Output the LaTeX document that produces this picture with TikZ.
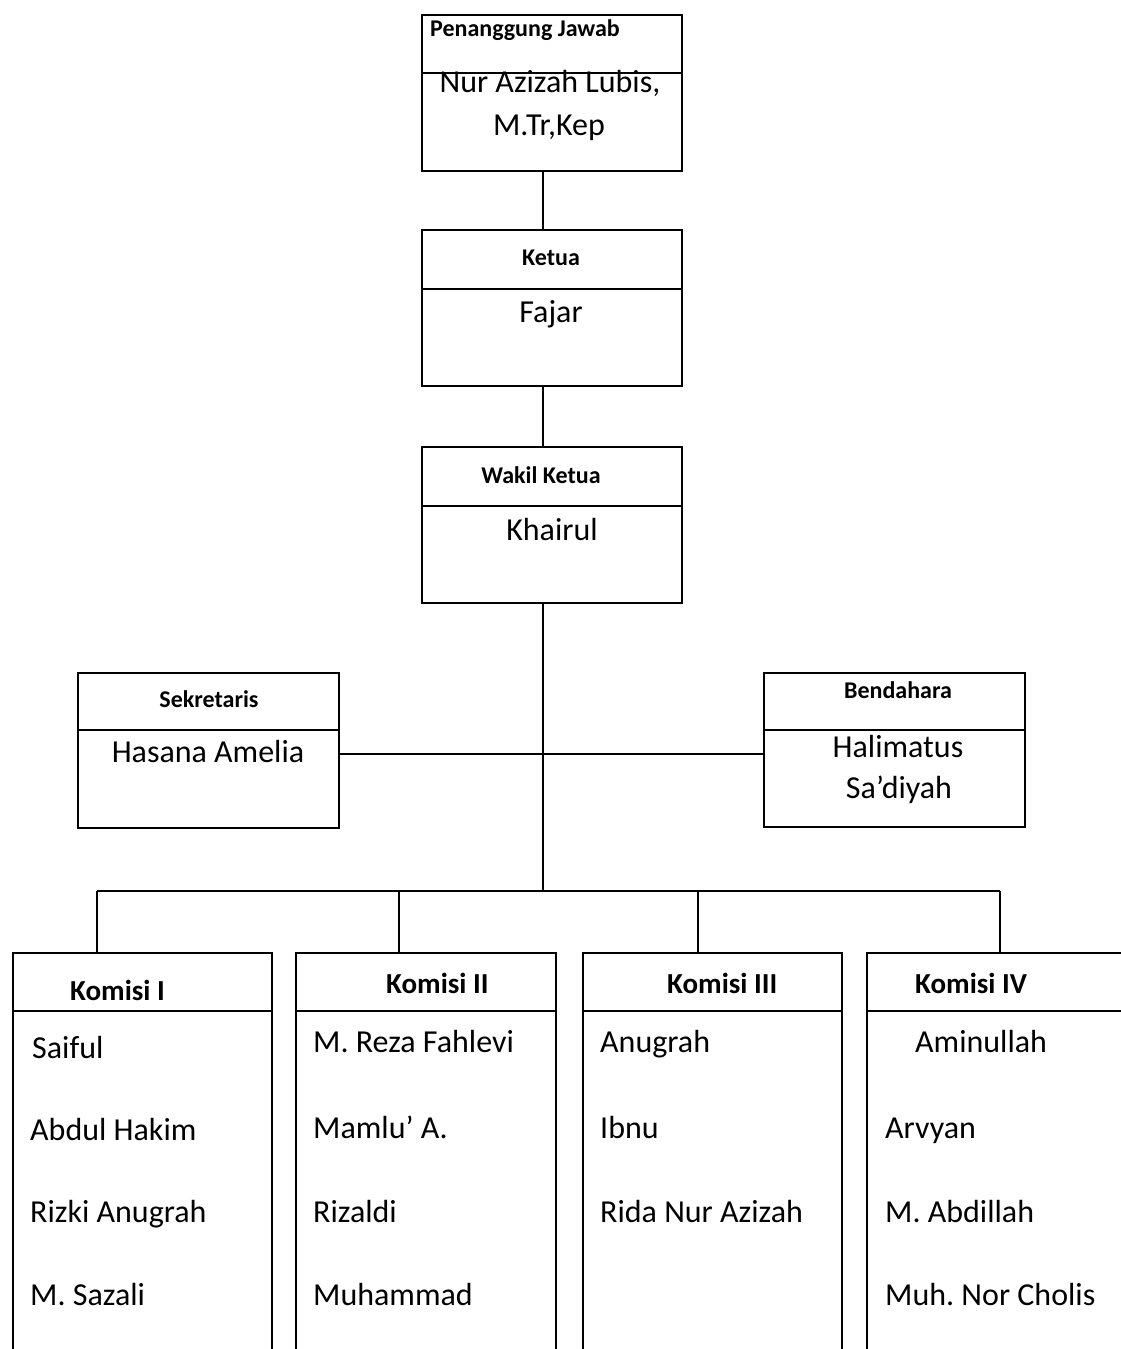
\documentclass[tikz,border=0pt]{standalone}
\usepackage{fontspec}
\setmainfont{Carlito}
\frenchspacing

\tikzset{
  unitbox/.style={draw, line width=1.8pt, rectangle, inner sep=0pt, anchor=north west},
  link/.style={line width=1.8pt},
  headtext/.style={font=\bfseries\fontsize{24}{28}\selectfont, inner sep=0pt, anchor=base},
  nametext/.style={font=\fontsize{32}{38}\selectfont, inner sep=0pt, anchor=base},
  smallname/.style={font=\fontsize{32}{38}\selectfont, inner sep=0pt, anchor=base},
  komhead/.style={font=\bfseries\fontsize{29}{34}\selectfont, inner sep=0pt, anchor=base west},
  member/.style={font=\fontsize{32}{38}\selectfont, inner sep=0pt, anchor=base west}
}

\begin{document}
\begin{tikzpicture}[x=1pt,y=1pt,yscale=-1,xscale=1]
\useasboundingbox (0,0) rectangle (1121,1349);
\clip (0,0) rectangle (1121,1349);

%Shape: Rectangle
\node[unitbox, minimum width=260pt, minimum height=156pt] (pj) at (421,14) {};
\draw[link] (pj.west |- 0,73) -- (pj.east |- 0,73);
%Shape: Rectangle
\node[unitbox, minimum width=260pt, minimum height=156pt] (ketua) at (421,229) {};
\draw[link] (ketua.west |- 0,289) -- (ketua.east |- 0,289);
%Shape: Rectangle
\node[unitbox, minimum width=260pt, minimum height=156pt] (wakil) at (421,446) {};
\draw[link] (wakil.west |- 0,506) -- (wakil.east |- 0,506);
%Shape: Rectangle
\node[unitbox, minimum width=261pt, minimum height=155pt] (sek) at (77,672) {};
\draw[link] (sek.west |- 0,730) -- (sek.east |- 0,730);
%Shape: Rectangle
\node[unitbox, minimum width=261pt, minimum height=154pt] (bend) at (763,672) {};
\draw[link] (bend.west |- 0,730) -- (bend.east |- 0,730);

%Shape: Rectangle (komisi, cut at the bottom edge)
\node[unitbox, minimum width=259pt, minimum height=500pt] (kom1) at (12,952) {};
\draw[link] (kom1.west |- 0,1011) -- (kom1.east |- 0,1011);
\node[unitbox, minimum width=260pt, minimum height=500pt] (kom2) at (295,952) {};
\draw[link] (kom2.west |- 0,1011) -- (kom2.east |- 0,1011);
\node[unitbox, minimum width=259pt, minimum height=500pt] (kom3) at (582,952) {};
\draw[link] (kom3.west |- 0,1011) -- (kom3.east |- 0,1011);
\node[unitbox, minimum width=300pt, minimum height=500pt] (kom4) at (866,952) {};
\draw[link] (kom4.west |- 0,1011) -- (kom4.east |- 0,1011);

%Straight Lines
\coordinate (spine) at (543,0);
\coordinate (hub) at (543,891);
\coordinate (midrow) at (543,754);
\draw[link] (pj.south -| spine) -- (ketua.north -| spine);
\draw[link] (ketua.south -| spine) -- (wakil.north -| spine);
\draw[link] (wakil.south -| spine) -- (hub);
\draw[link] (sek.east |- midrow) -- (bend.west |- midrow);

%Straight Lines
\coordinate (drop1) at (97,891);
\coordinate (drop2) at (399,891);
\coordinate (drop3) at (698,891);
\coordinate (drop4) at (1000,891);
\draw[link] (drop1) -- (drop4);
\draw[link] (drop1) -- (kom1.north -| drop1);
\draw[link] (drop2) -- (kom2.north -| drop2);
\draw[link] (drop3) -- (kom3.north -| drop3);
\draw[link] (drop4) -- (kom4.north -| drop4);

% Text Node
\node[headtext, anchor=base west] (pjhead) at (430,36) {Penanggung Jawab};
\node[smallname] (pjname) at (550,92) {Nur Azizah Lubis,};
\node[smallname] (pjtitle) at (549,135) {M.Tr,Kep};
% Text Node
\node[headtext] (ketuahead) at (551,265) {Ketua};
\node[nametext] (ketuaname) at (551,322) {Fajar};
% Text Node
\node[headtext] (wakilhead) at (541,483) {Wakil Ketua};
\node[nametext] (wakilname) at (552,540) {Khairul};
% Text Node
\node[headtext] (sekhead) at (209,707) {Sekretaris};
\node[nametext] (sekname) at (208,762) {Hasana Amelia};
% Text Node
\node[headtext] (bendhead) at (898,698) {Bendahara};
\node[smallname] (bendname) at (898,757) {Halimatus};
\node[smallname] (bendname2) at (899,798) {Sa’diyah};

% Text Node
\node[komhead] (k1head) at (70,1000) {Komisi I};
\node[member] (k1a) at (32,1058) {Saiful};
\node[member] (k1b) at (30,1140) {Abdul Hakim};
\node[member] (k1c) at (30,1222) {Rizki Anugrah};
\node[member] (k1d) at (30,1305) {M. Sazali};
% Text Node
\node[komhead] (k2head) at (386,993) {Komisi II};
\node[member] (k2a) at (313,1052) {M. Reza Fahlevi};
\node[member] (k2b) at (313,1138) {Mamlu’ A.};
\node[member] (k2c) at (313,1222) {Rizaldi};
\node[member] (k2d) at (313,1305) {Muhammad};
% Text Node
\node[komhead] (k3head) at (667,993) {Komisi III};
\node[member] (k3a) at (600,1052) {Anugrah};
\node[member] (k3b) at (600,1138) {Ibnu};
\node[member] (k3c) at (600,1222) {Rida Nur Azizah};
% Text Node
\node[komhead] (k4head) at (915,993) {Komisi IV};
\node[member] (k4a) at (915,1052) {Aminullah};
\node[member] (k4b) at (885,1138) {Arvyan};
\node[member] (k4c) at (885,1222) {M. Abdillah};
\node[member] (k4d) at (885,1305) {Muh. Nor Cholis};

\end{tikzpicture}
\end{document}
